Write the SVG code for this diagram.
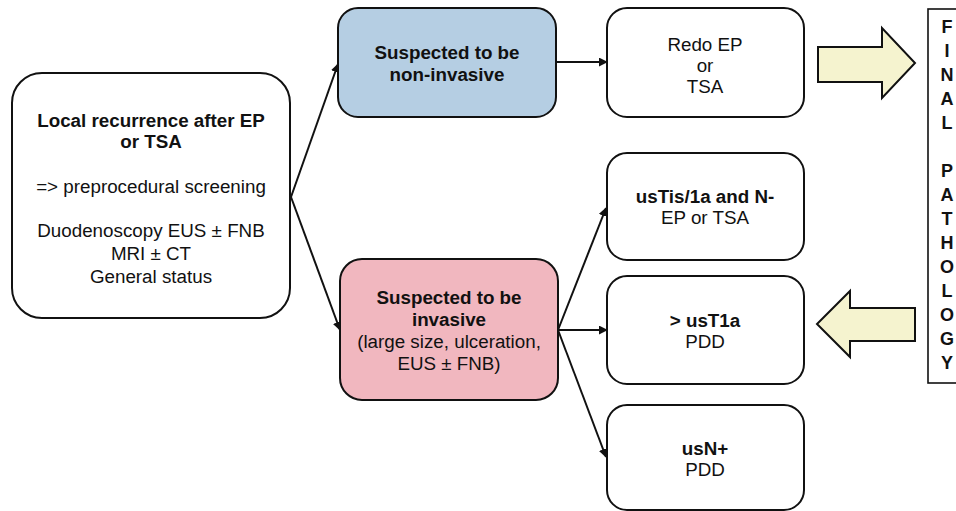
<svg xmlns="http://www.w3.org/2000/svg" width="956" height="511" viewBox="0 0 956 511">
  <style>
    .box { fill: #ffffff; stroke: #111111; stroke-width: 2; }
    .blue { fill: #B5CEE3; }
    .pink { fill: #F1B7BF; }
    .big { fill: #F5F3CF; stroke: #111111; stroke-width: 2; stroke-linejoin: miter; }
    .t { font-family: "Liberation Sans", Arial, sans-serif; font-size: 18.8px; fill: #111111; text-anchor: middle; }
    .b { font-weight: bold; }
    .col { font-family: "Liberation Sans", Arial, sans-serif; font-size: 18px; font-weight: bold; fill: #111111; text-anchor: middle; }
    .edge { fill: none; stroke: #111111; stroke-width: 2; marker-end: url(#head); }
  </style>
  <defs>
    <marker id="head" viewBox="0 0 10 10" refX="9" refY="5" markerWidth="4.5" markerHeight="4.5" orient="auto" markerUnits="strokeWidth">
      <path d="M0,0 L10,5 L0,10 z" fill="#111111"/>
    </marker>
  </defs>
  <rect width="956" height="511" fill="#ffffff"/>

  <g id="connectors">
    <line class="edge" x1="291" y1="197" x2="338" y2="64"/>
    <line class="edge" x1="291" y1="197" x2="340" y2="330"/>
    <line class="edge" x1="556" y1="62" x2="607" y2="62"/>
    <line class="edge" x1="558" y1="330" x2="606" y2="208"/>
    <line class="edge" x1="558" y1="330" x2="607" y2="330"/>
    <line class="edge" x1="558" y1="330" x2="606" y2="457"/>
  </g>

  <g id="recurrence">
    <rect class="box" x="12" y="73" width="278" height="245" rx="30" ry="30"/>
    <text class="t b" x="151" y="127">Local recurrence after EP</text>
    <text class="t b" x="151" y="148">or TSA</text>
    <text class="t" x="151" y="193">=&gt; preprocedural screening</text>
    <text class="t" x="151" y="237">Duodenoscopy EUS ± FNB</text>
    <text class="t" x="151" y="260">MRI ± CT</text>
    <text class="t" x="151" y="283">General status</text>
  </g>

  <g id="non-invasive">
    <rect class="box blue" x="338" y="8" width="218" height="109" rx="20" ry="20"/>
    <text class="t b" x="447" y="59">Suspected to be</text>
    <text class="t b" x="447" y="81">non-invasive</text>
  </g>

  <g id="invasive">
    <rect class="box pink" x="340" y="259" width="218" height="141" rx="22" ry="22"/>
    <text class="t b" x="449" y="304">Suspected to be</text>
    <text class="t b" x="449" y="326">invasive</text>
    <text class="t" x="449" y="348">(large size, ulceration,</text>
    <text class="t" x="449" y="370">EUS ± FNB)</text>
  </g>

  <g id="redo">
    <rect class="box" x="607" y="8" width="197" height="109" rx="20" ry="20"/>
    <text class="t" x="705" y="51">Redo EP</text>
    <text class="t" x="705" y="72">or</text>
    <text class="t" x="705" y="93">TSA</text>
  </g>

  <g id="ustis">
    <rect class="box" x="607" y="153" width="197" height="107" rx="20" ry="20"/>
    <text class="t b" x="705" y="203">usTis/1a and N-</text>
    <text class="t" x="705" y="224">EP or TSA</text>
  </g>

  <g id="ust1a">
    <rect class="box" x="607" y="276" width="197" height="108" rx="20" ry="20"/>
    <text class="t b" x="705" y="327">&gt; usT1a</text>
    <text class="t" x="705" y="348">PDD</text>
  </g>

  <g id="usn">
    <rect class="box" x="607" y="405" width="197" height="105" rx="20" ry="20"/>
    <text class="t b" x="705" y="455">usN+</text>
    <text class="t" x="705" y="476">PDD</text>
  </g>

  <g id="to-pathology">
    <polygon class="big" points="818,47 882,47 882,28 915,63 882,98 882,82 818,82"/>
  </g>

  <g id="from-pathology">
    <polygon class="big" points="915,308 850,308 850,291 817,324 850,357 850,341 915,341"/>
  </g>

  <g id="final-pathology">
    <rect x="928" y="9" width="40" height="374" fill="#ffffff" stroke="#111111" stroke-width="1.6"/>
    <text class="col" x="947" y="33">F</text>
    <text class="col" x="947" y="57">I</text>
    <text class="col" x="947" y="81">N</text>
    <text class="col" x="947" y="105">A</text>
    <text class="col" x="947" y="129">L</text>
    <text class="col" x="947" y="177">P</text>
    <text class="col" x="947" y="201">A</text>
    <text class="col" x="947" y="225">T</text>
    <text class="col" x="947" y="249">H</text>
    <text class="col" x="947" y="273">O</text>
    <text class="col" x="947" y="297">L</text>
    <text class="col" x="947" y="321">O</text>
    <text class="col" x="947" y="345">G</text>
    <text class="col" x="947" y="369">Y</text>
  </g>
</svg>
